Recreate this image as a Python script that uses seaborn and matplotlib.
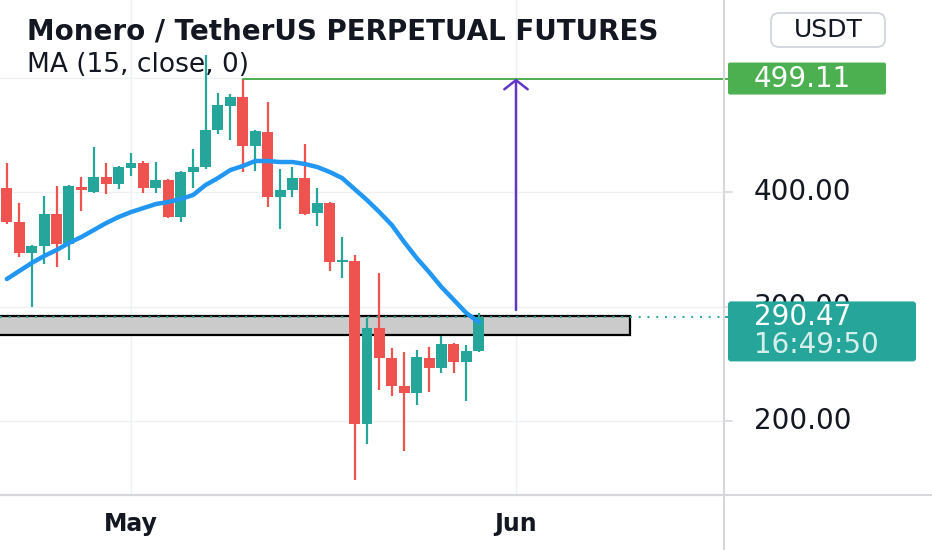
import numpy as np
import pandas as pd
import matplotlib
matplotlib.use("Agg")
import matplotlib.pyplot as plt
import matplotlib.dates as mdates
from matplotlib.patches import Rectangle, FancyBboxPatch
from matplotlib.lines import Line2D
import seaborn as sns

# ---------------- data ----------------
dates = pd.date_range("2021-04-21", "2021-05-29", freq="D")
opens = [403.5, 373.8, 346.7, 352.8, 380.8, 354.6, 404.4, 400.0, 413.1, 407.0,
         421.0, 425.3, 403.5, 410.5, 378.2, 417.5, 421.8, 454.1, 475.1, 483.0,
         440.2, 452.4, 395.6, 401.7, 412.2, 381.7, 390.4, 338.9, 339.7, 197.4,
         281.2, 255.0, 230.6, 224.5, 255.0, 246.3, 267.2, 251.5, 261.1]
highs = [425.3, 390.4, 353.7, 396.5, 405.2, 406.5, 413.1, 439.3, 425.3, 423.0,
         434.1, 427.1, 426.2, 411.4, 418.5, 437.6, 519.7, 486.5, 485.6, 499.11,
         454.1, 478.6, 420.1, 421.8, 441.9, 403.5, 391.5, 360.7, 345.0, 290.0,
         329.3, 263.8, 260.3, 262.0, 264.6, 274.2, 268.1, 266.4, 294.3]
lows = [372.0, 343.2, 299.6, 337.1, 334.5, 340.6, 383.4, 399.1, 398.3, 402.6,
        414.0, 399.1, 399.1, 377.3, 373.8, 403.5, 420.5, 450.7, 445.4, 417.5,
        418.3, 386.9, 367.7, 395.6, 380.0, 370.3, 331.0, 324.9, 148.5, 179.9,
        227.0, 221.8, 173.8, 214.0, 225.3, 241.9, 241.9, 217.5, 260.5]
closes = [374.0, 346.7, 352.8, 380.8, 354.6, 405.2, 401.7, 413.1, 407.0, 421.8,
          425.3, 403.5, 410.5, 378.2, 417.5, 421.8, 454.1, 476.0, 483.0, 440.2,
          453.3, 395.6, 401.7, 412.2, 380.8, 390.4, 338.9, 340.6, 197.4, 281.2,
          255.0, 230.6, 224.5, 255.9, 246.3, 267.2, 251.5, 261.1, 290.47]
ma15 = [324.0, 331.0, 338.0, 344.1, 349.3, 355.5, 360.7, 366.8, 372.9, 378.2,
        382.5, 386.0, 389.5, 391.3, 393.9, 397.4, 406.1, 412.2, 419.2, 422.7,
        427.1, 427.1, 426.2, 426.2, 424.5, 421.8, 417.5, 412.2, 402.6, 393.0,
        382.5, 371.2, 356.3, 342.4, 330.1, 317.0, 305.7, 294.3, 286.5]
zone_low, zone_high = 275.1, 291.7
zone_end = "2021-06-10 05:00"
target_date = "2021-06-01"
target_from = 297.0
price_ticks = [200, 300, 400]
month_ticks = ["2021-05-01", "2021-06-01"]
month_labels = ["May", "Jun"]
title = "Monero / TetherUS PERPETUAL FUTURES"
ma_label = "MA (15, close, 0)"
countdown = "16:49:50"
currency = "USDT"

# ---------------- style ----------------
sns.set_theme(style="white")
plt.rcParams["font.family"] = ["DejaVu Sans"]
UP, DOWN = "#26a69a", "#ef5350"
GRID = "#eef0f4"
BORDER = "#d6d8dc"
INK = "#131722"

W, H = 932, 550
fig = plt.figure(figsize=(W / 100, H / 100), dpi=100)
fig.patch.set_facecolor("white")
ax = fig.add_axes([0, 55 / H, 724 / W, 495 / H])
axr = fig.add_axes([724 / W, 55 / H, 208 / W, 495 / H])
ax.set_zorder(2)
axr.set_zorder(1)

df = pd.DataFrame({"date": dates, "open": opens, "high": highs, "low": lows,
                   "close": closes, "ma": ma15})
df["x"] = mdates.date2num(df["date"])
up = df["close"] >= df["open"]
df["color"] = np.where(up, UP, DOWN)

ylo, yhi = 135.4, 567.7
may1 = mdates.date2num(pd.Timestamp("2021-05-01"))
x0 = may1 - 10.55
x1 = may1 + 47.75
ax.set_xlim(x0, x1)
ax.set_ylim(ylo, yhi)

# grid
for t in [200, 300, 400, 500]:
    ax.axhline(t, color=GRID, lw=1, zorder=0)
for m in month_ticks:
    ax.axvline(mdates.date2num(pd.Timestamp(m)), color=GRID, lw=1, zorder=0)

# support zone
zx1 = mdates.date2num(pd.Timestamp(zone_end))
ax.add_patch(Rectangle((x0 - 1, zone_low), zx1 - x0 + 1, zone_high - zone_low,
                       facecolor="#cbcbcb", edgecolor="black", lw=1.6, zorder=1))

# candles
ax.vlines(df["x"], df["low"], df["high"], colors=df["color"], lw=1.6, zorder=3)
body_lo = np.minimum(df["open"], df["close"])
body_h = np.maximum(np.abs(df["close"] - df["open"]), 0.8)
ax.bar(df["x"], body_h, bottom=body_lo, width=0.88, color=df["color"],
       edgecolor="none", zorder=3)

# MA line
sns.lineplot(data=df, x="x", y="ma", ax=ax, color="#2196f3", lw=3.2,
             zorder=4, legend=False)

# last price dotted line
last = closes[-1]
ax.axhline(last, color=UP, lw=1.4, ls=(0, (1, 3.5)), zorder=2)

# target line and arrow
hi_idx = int(np.argmax(highs[17:])) + 17
ax.plot([df["x"][hi_idx], x1], [highs[hi_idx], highs[hi_idx]],
        color="#4caf50", lw=1.4, zorder=5)
tx = mdates.date2num(pd.Timestamp(target_date))
ax.annotate("", xy=(tx, highs[hi_idx]), xytext=(tx, target_from),
            arrowprops=dict(arrowstyle="->,head_length=0.55,head_width=0.7",
                            color="#6236c9", lw=1.8, shrinkA=0, shrinkB=0),
            zorder=5)

# axes cosmetics
for s in ["top", "right", "left"]:
    ax.spines[s].set_visible(False)
ax.spines["bottom"].set_color(BORDER)
ax.spines["bottom"].set_linewidth(1.5)
ax.set_yticks([])
ax.set_xticks([mdates.date2num(pd.Timestamp(m)) for m in month_ticks])
ax.set_xticklabels(month_labels, fontsize=17, fontweight="bold", color=INK)
ax.tick_params(axis="x", length=7, width=1.2, color=BORDER, pad=5)
ax.set_xlabel("")
ax.set_ylabel("")

# titles
ax.text(27 / 724, 1 - 32 / 495, title, transform=ax.transAxes, fontsize=20,
        fontweight="bold", color=INK, va="center", ha="left",
        clip_on=True, zorder=6)
ax.text(27 / 724, 1 - 65 / 495, ma_label, transform=ax.transAxes, fontsize=19,
        color=INK, va="center", ha="left", zorder=6)

# ---------------- right price scale ----------------
axr.set_xlim(0, 208)
axr.set_ylim(ylo, yhi)
axr.axis("off")
for t in price_ticks:
    axr.plot([0, 8], [t, t], color=BORDER, lw=1.2, zorder=1)
    axr.text(30, t, f"{t:.2f}", fontsize=20, color=INK, va="center",
             ha="left", zorder=1)
px_per_unit = 495 / (yhi - ylo)
# green high label
gh = 32 / px_per_unit
axr.plot([0, 8], [highs[hi_idx]] * 2, color="#4caf50", lw=1.4, zorder=3)
axr.add_patch(FancyBboxPatch((4, highs[hi_idx] - gh / 2), 158, gh,
                             boxstyle="round,pad=0,rounding_size=2",
                             mutation_aspect=1 / px_per_unit,
                             facecolor="#4caf50", edgecolor="none", zorder=2))
axr.text(30, highs[hi_idx], f"{highs[hi_idx]:.2f}", fontsize=20, color="white",
         va="center", ha="left", zorder=4)
# teal last price label
th = 60 / px_per_unit
ttop = last + 16 / px_per_unit
axr.add_patch(FancyBboxPatch((4, ttop - th), 188, th,
                             boxstyle="round,pad=0,rounding_size=3",
                             mutation_aspect=1 / px_per_unit,
                             facecolor=UP, edgecolor="none", zorder=2))
axr.plot([0, 8], [last, last], color=UP, lw=1.4, zorder=3)
axr.text(30, last, f"{last:.2f}", fontsize=20, color="white", va="center",
         ha="left", zorder=4)
axr.text(30, last - 28 / px_per_unit, countdown, fontsize=20, color="#d6efeb",
         va="center", ha="left", zorder=4)
# currency box
cy = yhi - 30 / px_per_unit
axr.add_patch(FancyBboxPatch((47, cy - 17 / px_per_unit), 114, 34 / px_per_unit,
                             boxstyle="round,pad=0,rounding_size=8",
                             mutation_aspect=1 / px_per_unit,
                             facecolor="white", edgecolor="#d1d4dc", lw=1.3,
                             zorder=2))
axr.text(104, cy, currency, fontsize=18, color=INK, va="center",
         ha="center", zorder=4)

# frame lines spanning the full figure
fig.add_artist(Line2D([724 / W, 724 / W], [0, 1], transform=fig.transFigure,
                      color=BORDER, lw=1.5, zorder=10))
fig.add_artist(Line2D([0, 1], [55 / H, 55 / H], transform=fig.transFigure,
                      color=BORDER, lw=1.5, zorder=10))

fig.savefig("out.png", dpi=100, facecolor="white")
